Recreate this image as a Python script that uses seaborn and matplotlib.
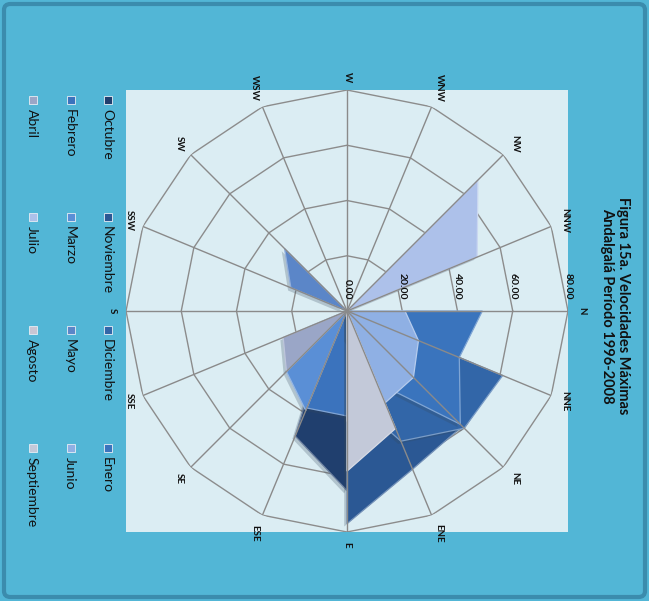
import numpy as np
import pandas as pd
import matplotlib
matplotlib.use("Agg")
import matplotlib.pyplot as plt
import matplotlib.patheffects as pe
from matplotlib.patches import Rectangle, FancyBboxPatch
import seaborn as sns

# Wind directions (16-point rose) and monthly series, in legend order
directions = ["N", "NNE", "NE", "ENE", "E", "ESE", "SE", "SSE",
              "S", "SSW", "SW", "WSW", "W", "WNW", "NW", "NNW"]
months = ["Octubre", "Noviembre", "Diciembre", "Enero",
          "Febrero", "Marzo", "Mayo", "Junio",
          "Abril", "Julio", "Agosto", "Septiembre"]

octubre    = [0, 10, 22, 38, 65, 49, 10, 0, 0, 0, 0, 0, 0, 0, 0, 0]
noviembre  = [0, 50, 59, 62, 77, 0, 0, 0, 0, 0, 0, 0, 0, 0, 0, 0]
diciembre  = [0, 61, 60, 51, 30, 0, 0, 0, 0, 0, 0, 0, 0, 0, 0, 0]
enero      = [49, 44, 58, 28, 8, 0, 0, 0, 0, 0, 0, 0, 0, 0, 0, 0]
febrero    = [0, 0, 0, 20, 38, 38, 5, 0, 0, 0, 0, 0, 0, 0, 0, 0]
marzo      = [0, 0, 0, 0, 0, 39, 31, 15, 0, 0, 0, 0, 0, 0, 0, 0]
mayo       = [0, 0, 0, 0, 0, 0, 0, 0, 0, 22, 32, 0, 0, 0, 0, 0]
junio      = [21, 28, 34, 36, 10, 0, 0, 0, 0, 0, 0, 0, 0, 0, 0, 0]
abril      = [0, 0, 0, 0, 0, 0, 31, 25, 0, 0, 0, 0, 0, 0, 0, 0]
julio      = [0, 0, 0, 0, 0, 0, 0, 0, 0, 0, 0, 0, 0, 0, 67, 51]
agosto     = [0, 0, 0, 30, 40, 0, 0, 0, 0, 0, 0, 0, 0, 0, 0, 0]
septiembre = [0, 0, 0, 46, 58, 0, 0, 0, 0, 0, 0, 0, 0, 0, 0, 0]

radial_ticks = [0, 20, 40, 60, 80]
title = "Figura 15a. Velocidades Máximas\nAndalgalá Período 1996-2008"

series = pd.DataFrame(
    [octubre, noviembre, diciembre, enero, febrero, marzo,
     mayo, junio, abril, julio, agosto, septiembre],
    index=months, columns=directions)

palette = sns.color_palette([
    "#203f6e", "#2b5894", "#3266a8", "#3a74bd",
    "#3b73bd", "#5a8fd6", "#5b86c8", "#8fb0e4",
    "#9aa6c7", "#adc1ea", "#c9c6d4", "#c3c9d9"])

sns.set_theme(style="white")
plt.rcParams["font.family"] = ["Lato", "DejaVu Sans"]

W, H = 649, 601
fig = plt.figure(figsize=(W / 100, H / 100), dpi=100)
fig.patch.set_facecolor("#52b6d6")


def fx(x):
    return x / W


def fy(y):
    return 1 - y / H


fig.add_artist(FancyBboxPatch((fx(4), fy(597)), 641 / W, 593 / H,
                              boxstyle="round,pad=0,rounding_size=0.01",
                              transform=fig.transFigure, fc="none",
                              ec="#3b8cad", lw=3, zorder=-2))
fig.add_artist(Rectangle((fx(126), fy(532)), 442 / W, 442 / H,
                         transform=fig.transFigure, fc="#dbedf3",
                         ec="none", zorder=-1))

ax = fig.add_axes([fx(126), fy(532), 442 / W, 442 / H], projection="polar")
ax.patch.set_alpha(0)
ax.set_theta_zero_location("E")
ax.set_theta_direction(-1)
ax.set_ylim(0, 80)
ax.grid(False)
ax.set_xticks([])
ax.set_yticks([])
ax.spines["polar"].set_visible(False)

theta = np.deg2rad(np.arange(len(directions)) * 22.5)
tc = np.append(theta, theta[0])

# polygonal rings behind the data
for r in radial_ticks[1:]:
    ax.plot(tc, [r] * len(tc), color="#8c8c8c", lw=1.0, zorder=2)

shadow = [pe.SimplePatchShadow(offset=(-2, -2), shadow_rgbFace="#34495c",
                               alpha=0.25), pe.Normal()]
for i, name in enumerate(months):
    vals = series.loc[name].to_numpy(dtype=float)
    v = np.append(vals, vals[0])
    col = np.array(palette[i])
    edge = tuple(col + (1 - col) * 0.35)
    ax.fill(tc, v, facecolor=palette[i], edgecolor=edge, lw=0.9,
            zorder=3 + i * 0.01, path_effects=shadow)

# spokes on top of the fills
for t in theta:
    ax.plot([t, t], [0, 80], color="#8a8a8a", lw=1.0, zorder=5)

# radial value labels along the N axis
for r in radial_ticks:
    ax.annotate(f"{r:.2f}", xy=(0, r), xytext=(0, 8),
                textcoords="offset points", rotation=-90,
                ha="center", va="bottom", fontsize=7.5,
                fontweight="bold", color="#111111", zorder=6)

# direction labels just outside the outer ring
R_PX = 221.0
for k, lab in enumerate(directions):
    phi = theta[k]
    ux, uy = abs(np.cos(phi)), abs(np.sin(phi))
    half_w = 5.0
    half_h = len(lab) * 3.4
    cands = []
    if ux > 1e-6:
        cands.append(half_w / ux)
    if uy > 1e-6:
        cands.append(half_h / uy)
    t = min(cands)
    r = (R_PX + 9 + t) / R_PX * 80
    ax.text(phi, r, lab, rotation=-90, ha="center", va="center",
            fontsize=7, fontweight="bold", color="#111111")

# title
fig.text(fx(615), fy(306), title, rotation=-90, ha="center", va="center",
         multialignment="center", fontsize=10.5, fontweight="bold",
         color="#111111")

# legend laid out in three rotated rows
row_x = [108, 71, 33]
entry_y = [100, 217, 330, 448]
for i, name in enumerate(months):
    x = row_x[i // 4]
    y = entry_y[i % 4]
    fig.add_artist(Rectangle((fx(x - 4), fy(y + 4)), 8 / W, 8 / H,
                             transform=fig.transFigure, fc=palette[i],
                             ec="#e8eef5", lw=0.6))
    fig.text(fx(x - 1), fy(y + 9), name, rotation=-90, ha="center",
             va="top", fontsize=10, color="#111111")

fig.savefig("out.png", dpi=100, facecolor=fig.get_facecolor())
